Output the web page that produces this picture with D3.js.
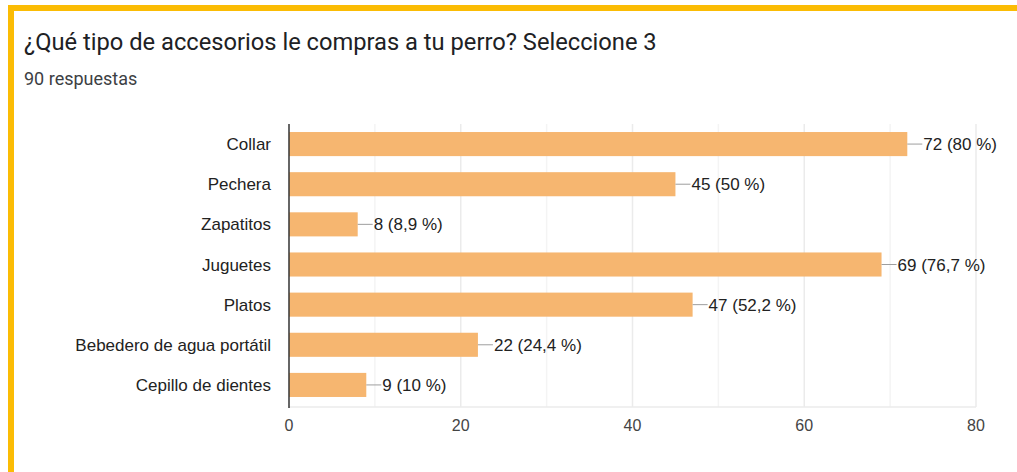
<!DOCTYPE html>
<html>
<head>
<script src="https://d3js.org/d3.v7.min.js"></script>
<style>
  body { margin: 0; background: #fff; }
</style>
</head>
<body>
<script>
var W = 1017, H = 472

var categories = ['Collar', 'Pechera', 'Zapatitos', 'Juguetes', 'Platos', 'Bebedero de agua portátil', 'Cepillo de dientes']
var counts = [72, 45, 8, 69, 47, 22, 9]
var percents = ['80 %', '50 %', '8,9 %', '76,7 %', '52,2 %', '24,4 %', '10 %']
var xTicks = [0, 20, 40, 60, 80]
var xGrid = [10, 20, 30, 40, 50, 60, 70, 80]

var data = categories.map(function(c, i) {
  return {cat: c, n: counts[i], pct: percents[i]}
})

var svg = d3.select('body').append('svg')
  .attr('width', W)
  .attr('height', H)

// yellow frame
svg.append('rect').attr('x', 8).attr('y', 5).attr('width', W).attr('height', 6).attr('fill', '#fbbc04')
svg.append('rect').attr('x', 8).attr('y', 5).attr('width', 6).attr('height', H).attr('fill', '#fbbc04')

svg.append('text')
  .attr('x', 24).attr('y', 50)
  .attr('font-family', 'Roboto, Arial, sans-serif')
  .attr('font-size', 23.7)
  .attr('fill', '#202124')
  .text('¿Qué tipo de accesorios le compras a tu perro? Seleccione 3')

svg.append('text')
  .attr('x', 24).attr('y', 85)
  .attr('font-family', 'Roboto, Arial, sans-serif')
  .attr('font-size', 18)
  .attr('fill', '#3c4043')
  .text('90 respuestas')

var pLeft = 289, pRight = 976, pTop = 124, pBottom = 405

var x = d3.scaleLinear().domain([0, 80]).range([pLeft, pRight])
var y = d3.scaleBand().domain(categories).range([pTop, pBottom]).paddingInner(0.4).paddingOuter(0.2)

// gridlines
svg.append('g').selectAll('line')
  .data(xGrid)
  .enter().append('line')
  .attr('x1', function(d) { return x(d) }).attr('x2', function(d) { return x(d) })
  .attr('y1', pTop).attr('y2', pBottom + 2)
  .attr('stroke', function(d) { return d % 20 === 0 ? '#ebebeb' : '#f4f4f4' })
  .attr('stroke-width', 1.5)

svg.append('line')
  .attr('x1', pLeft).attr('x2', pRight)
  .attr('y1', pBottom + 2).attr('y2', pBottom + 2)
  .attr('stroke', '#ebebeb').attr('stroke-width', 1.5)

// bars
svg.append('g').selectAll('rect')
  .data(data)
  .enter().append('rect')
  .attr('x', x(0))
  .attr('y', function(d) { return y(d.cat) })
  .attr('width', function(d) { return x(d.n) - x(0) })
  .attr('height', y.bandwidth())
  .attr('fill', '#f6b670')

// leader lines + value labels
var lab = svg.append('g').selectAll('g')
  .data(data)
  .enter().append('g')

lab.append('line')
  .attr('x1', function(d) { return x(d.n) })
  .attr('x2', function(d) { return x(d.n) + 15 })
  .attr('y1', function(d) { return y(d.cat) + y.bandwidth() / 2 })
  .attr('y2', function(d) { return y(d.cat) + y.bandwidth() / 2 })
  .attr('stroke', '#9e9e9e').attr('stroke-width', 1)

lab.append('text')
  .attr('x', function(d) { return x(d.n) + 16 })
  .attr('y', function(d) { return y(d.cat) + y.bandwidth() / 2 })
  .attr('dy', '0.36em')
  .attr('font-family', 'Arial, "Liberation Sans", sans-serif')
  .attr('font-size', 17)
  .attr('fill', '#222')
  .text(function(d) { return d.n + ' (' + d.pct + ')' })

// category labels
svg.append('g').selectAll('text')
  .data(data)
  .enter().append('text')
  .attr('x', pLeft - 18)
  .attr('y', function(d) { return y(d.cat) + y.bandwidth() / 2 })
  .attr('dy', '0.36em')
  .attr('text-anchor', 'end')
  .attr('font-family', 'Arial, "Liberation Sans", sans-serif')
  .attr('font-size', 17)
  .attr('fill', '#222')
  .text(function(d) { return d.cat })

// x tick labels
svg.append('g').selectAll('text')
  .data(xTicks)
  .enter().append('text')
  .attr('x', function(d) { return x(d) })
  .attr('y', 431)
  .attr('text-anchor', 'middle')
  .attr('font-family', 'Arial, "Liberation Sans", sans-serif')
  .attr('font-size', 16)
  .attr('fill', '#444')
  .text(function(d) { return d })

// axis line
svg.append('line')
  .attr('x1', pLeft).attr('x2', pLeft)
  .attr('y1', pTop).attr('y2', pBottom + 3)
  .attr('stroke', '#333').attr('stroke-width', 1.5)
</script>
</body>
</html>
